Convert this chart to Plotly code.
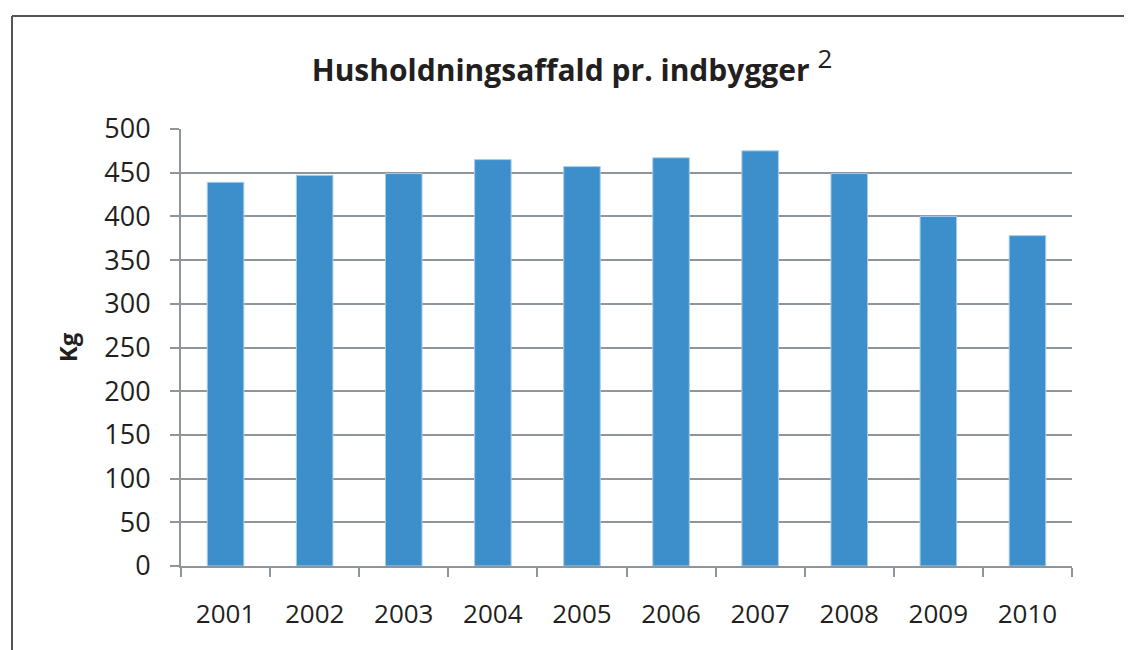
import plotly.graph_objects as go

years = ["2001", "2002", "2003", "2004", "2005", "2006", "2007", "2008", "2009", "2010"]
kg = [439, 447, 449, 465, 457, 467, 475, 449, 400, 378]
y_ticks = [0, 50, 100, 150, 200, 250, 300, 350, 400, 450, 500]

# the page puts the figure 8px in from the top left corner
OFF = 8
W, H = 1132, 650
L, R, T, B = 181 - OFF, 60 + OFF, 129 - OFF, 84 + OFF
pw = W - L - R
ph = H - T - B

grid_col = "#8f969b"
font = "Open Sans, Roboto, sans-serif"

fig = go.Figure()
fig.add_trace(go.Bar(
    x=years, y=kg,
    marker=dict(color="#3d8fcc", line=dict(color="#a8cbea", width=1)),
    width=0.41,
    showlegend=False,
))

fig.update_layout(
    width=W, height=H,
    margin=dict(l=L, r=R, t=T, b=B),
    paper_bgcolor="white", plot_bgcolor="white",
    font=dict(family=font, color="#231f20"),
    title=dict(
        text="<b>Husholdningsaffald pr. indbygger</b> <sup><span style='font-size:26px'>2</span></sup>",
        x=(572 - OFF) / W, xanchor="center", xref="container",
        y=1 - (70 - OFF) / H, yanchor="middle", yref="container",
        font=dict(size=30, family=font, color="#231f20"),
    ),
    bargap=0.59,
)

fig.update_xaxes(
    showline=True, linecolor=grid_col, linewidth=2,
    ticks="outside", tickson="boundaries", ticklen=9, tickwidth=2, tickcolor=grid_col,
    tickfont=dict(size=26, family=font, color="#231f20"),
    ticklabelstandoff=24,
    showgrid=False,
)
fig.update_yaxes(
    range=[0, 500], tickvals=y_ticks,
    showline=True, linecolor=grid_col, linewidth=2,
    ticks="outside", ticklen=9, tickwidth=2, tickcolor=grid_col,
    tickfont=dict(size=27, family=font, color="#231f20"),
    ticklabelstandoff=14,
    showgrid=True, gridcolor=grid_col, gridwidth=2,
    zeroline=False,
    title=dict(text="<b>Kg</b>", font=dict(size=24, family=font, color="#231f20"), standoff=20),
)

# frame around the figure (left and top edges only are visible)
x_left = (12 - OFF - L) / pw
y_top = 1 + (T - (16 - OFF)) / ph
fig.add_shape(type="line", xref="paper", yref="paper",
              x0=x_left, x1=x_left, y0=y_top, y1=-B / ph - 0.01,
              line=dict(color="#555555", width=2))
fig.add_shape(type="line", xref="paper", yref="paper",
              x0=x_left, x1=1 + (R + 20) / pw, y0=y_top, y1=y_top,
              line=dict(color="#555555", width=2))

fig.write_html("out.html")
